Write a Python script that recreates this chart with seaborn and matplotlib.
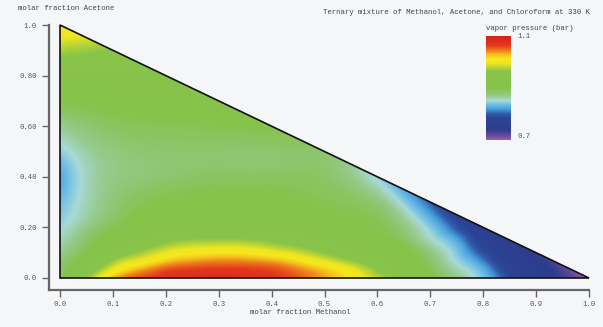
import numpy as np
import matplotlib
matplotlib.use("Agg")
import matplotlib.pyplot as plt
import matplotlib.tri as mtri
from matplotlib.colors import LinearSegmentedColormap
from matplotlib.patches import Polygon
import seaborn as sns

# ---------------- data ----------------
TITLE = "Ternary mixture of Methanol, Acetone, and Chloroform at 330 K"
X_LABEL = "molar fraction Methanol"
Y_LABEL = "molar fraction Acetone"
CBAR_LABEL = "vapor pressure (bar)"
P_MIN, P_MAX = 0.7, 1.1

X_TICKS = [0.0, 0.1, 0.2, 0.3, 0.4, 0.5, 0.6, 0.7, 0.8, 0.9, 1.0]
X_TICK_LABELS = ["0.0", "0.1", "0.2", "0.3", "0.4", "0.5", "0.6", "0.7", "0.8", "0.9", "1.0"]
Y_TICKS = [0.0, 0.2, 0.4, 0.6, 0.8, 1.0]
Y_TICK_LABELS = ["0.0", "0.20", "0.40", "0.60", "0.80", "1.0"]

# methanol fractions sampled along each acetone row (plus the row's end on the hypotenuse)
X_FINE = [0.0, 0.05, 0.1, 0.15, 0.2, 0.25, 0.3, 0.35, 0.4, 0.45, 0.5,
          0.55, 0.6, 0.65, 0.7, 0.75, 0.8, 0.85, 0.9, 0.95, 1.0]
X_COARSE = [0.0, 0.05, 0.1, 0.2, 0.3, 0.4, 0.5, 0.6, 0.7, 0.8, 0.9, 1.0]

# vapor pressure (bar) along rows of constant acetone fraction
P_Y000 = [0.89, 0.965, 1.03, 1.058, 1.072, 1.08, 1.085, 1.08, 1.068, 1.055, 1.035,
          1.01, 0.98, 0.945, 0.905, 0.872, 0.84, 0.79, 0.76, 0.735, 0.70]
P_Y003 = [0.885, 0.94, 1.0, 1.035, 1.058, 1.065, 1.067, 1.066, 1.06, 1.045, 1.025,
          1.0, 0.965, 0.933, 0.895, 0.862, 0.83, 0.776, 0.753, 0.728, 0.712]
P_Y006 = [0.88, 0.92, 0.975, 1.005, 1.03, 1.042, 1.047, 1.046, 1.04, 1.022, 1.0,
          0.975, 0.95, 0.922, 0.887, 0.852, 0.815, 0.767, 0.746, 0.727]
P_Y010 = [0.87, 0.9, 0.945, 0.97, 0.995, 1.007, 1.012, 1.01, 1.0, 0.985, 0.965,
          0.945, 0.93, 0.91, 0.876, 0.841, 0.793, 0.761, 0.737]
P_Y015 = [0.86, 0.885, 0.92, 0.94, 0.958, 0.968, 0.97, 0.968, 0.96, 0.95, 0.94,
          0.925, 0.908, 0.889, 0.857, 0.824, 0.772, 0.75]
P_Y020 = [0.85, 0.872, 0.895, 0.915, 0.928, 0.935, 0.935, 0.933, 0.93, 0.925, 0.918,
          0.908, 0.898, 0.876, 0.843, 0.797, 0.762]
P_Y030 = [0.835, 0.86, 0.878, 0.892, 0.9, 0.905, 0.905, 0.905, 0.905, 0.9, 0.895,
          0.89, 0.878, 0.845, 0.80]
P_Y040 = [0.825, 0.858, 0.872, 0.882, 0.887, 0.887, 0.885, 0.847]
P_Y050 = [0.845, 0.865, 0.875, 0.882, 0.882, 0.882, 0.882]
P_Y060 = [0.87, 0.88, 0.888, 0.893, 0.897, 0.9]
P_Y070 = [0.9, 0.905, 0.91, 0.915, 0.92]
P_Y080 = [0.94, 0.94, 0.94, 0.935]
P_Y090 = [0.975, 0.97, 0.965]
P_Y095 = [0.995, 0.99]
P_Y100 = [1.012]

ROWS = [
    (0.00, X_FINE, P_Y000), (0.03, X_FINE, P_Y003), (0.06, X_FINE, P_Y006),
    (0.10, X_FINE, P_Y010), (0.15, X_FINE, P_Y015), (0.20, X_FINE, P_Y020),
    (0.30, X_FINE, P_Y030), (0.40, X_COARSE, P_Y040), (0.50, X_COARSE, P_Y050),
    (0.60, X_COARSE, P_Y060), (0.70, X_COARSE, P_Y070), (0.80, X_COARSE, P_Y080),
    (0.90, X_COARSE, P_Y090), (0.95, X_COARSE, P_Y095), (1.00, X_COARSE, P_Y100),
]

# colour scale (value, colour)
CMAP_STOPS = [
    (0.700, "#a15ca8"), (0.715, "#6a4c9e"), (0.740, "#2e3c8c"), (0.785, "#2c4596"),
    (0.800, "#2f5aa8"), (0.820, "#4aa0dc"), (0.835, "#6cbce6"), (0.852, "#a8dad6"),
    (0.870, "#96ca8c"), (0.885, "#8bc566"), (0.900, "#86c34a"), (0.965, "#89c44a"),
    (0.978, "#b4d238"), (0.995, "#eee620"), (1.012, "#f6e81c"), (1.028, "#f4c01c"),
    (1.040, "#f08c1e"), (1.065, "#e2361c"), (1.100, "#d8201c"),
]

BG = "#f5f6f8"
FONT = ["Liberation Mono", "DejaVu Sans Mono"]

# ---------------- assemble sample points ----------------
xs, ys, ps = [], [], []
for yv, xgrid, vals in ROWS:
    end = round(1.0 - yv, 6)
    xr = [x for x in xgrid if x < end - 1e-9] + [end]
    assert len(xr) == len(vals), (yv, len(xr), len(vals))
    xs += xr
    ys += [yv] * len(xr)
    ps += list(vals)
xs, ys, ps = np.array(xs), np.array(ys), np.array(ps)

# ---------------- style ----------------
sns.set_theme(style="ticks", rc={"figure.facecolor": BG, "axes.facecolor": BG,
                                 "savefig.facecolor": BG})
plt.rcParams["font.family"] = FONT

pos = [(v - P_MIN) / (P_MAX - P_MIN) for v, _ in CMAP_STOPS]
cmap = LinearSegmentedColormap.from_list("vp", list(zip(pos, [c for _, c in CMAP_STOPS])), N=512)

fig = plt.figure(figsize=(6.03, 3.27), dpi=100)
W, H = 603.0, 327.0
ax = fig.add_axes([49 / W, (H - 290) / H, (589 - 49) / W, (290 - 25) / H])
ax.set_facecolor(BG)

tri = mtri.Triangulation(xs, ys)
interp = mtri.CubicTriInterpolator(tri, ps, kind="min_E")
gx, gy = np.meshgrid(np.linspace(0, 1, 700), np.linspace(0, 1, 700))
gz = np.ma.masked_invalid(interp(gx, gy))
im = ax.imshow(gz, extent=(0, 1, 0, 1), origin="lower", cmap=cmap,
               vmin=P_MIN, vmax=P_MAX, interpolation="bilinear", aspect="auto", zorder=1)
corners = [(0, 0), (1, 0), (0, 1)]
im.set_clip_path(Polygon(corners, closed=True, transform=ax.transData))
ax.add_patch(Polygon(corners, closed=True, fill=False,
                     edgecolor="#111111", linewidth=1.2, zorder=3, clip_on=False))

ax.set_xlim(-11 / 529, 1.0)
ax.set_ylim(-12 / 253, 1.0)
ax.set_xticks(X_TICKS)
ax.set_xticklabels(X_TICK_LABELS)
ax.set_yticks(Y_TICKS)
ax.set_yticklabels(Y_TICK_LABELS)
for s in ("top", "right"):
    ax.spines[s].set_visible(False)
for s in ("left", "bottom"):
    ax.spines[s].set_color("#666666")
    ax.spines[s].set_linewidth(1.6)
ax.tick_params(axis="both", colors="#666666", labelcolor="#555555", labelsize=5.2,
               length=5, width=1.0)
ax.tick_params(axis="y", pad=4)
ax.tick_params(axis="x", pad=3)

fig.text(300 / W, 1 - 313 / H, X_LABEL, ha="center", va="center", fontsize=5.3, color="#444444")
fig.text(18 / W, 1 - 9 / H, Y_LABEL, ha="left", va="center", fontsize=5.3, color="#444444")
fig.text(590 / W, 1 - 12.5 / H, TITLE, ha="right", va="center", fontsize=5.3, color="#444444")

cax = fig.add_axes([486 / W, (H - 140) / H, 25 / W, 104 / H])
cb = fig.colorbar(im, cax=cax)
cb.outline.set_visible(False)
cb.set_ticks([])
fig.text(486 / W, 1 - 28 / H, CBAR_LABEL, ha="left", va="center", fontsize=5.3, color="#444444")
fig.text(517 / W, 1 - 37 / H, f"{P_MAX:.1f}", ha="left", va="center", fontsize=5.2, color="#555555")
fig.text(517 / W, 1 - 137 / H, f"{P_MIN:.1f}", ha="left", va="center", fontsize=5.2, color="#555555")

fig.savefig("out.png", dpi=100, facecolor=BG)
